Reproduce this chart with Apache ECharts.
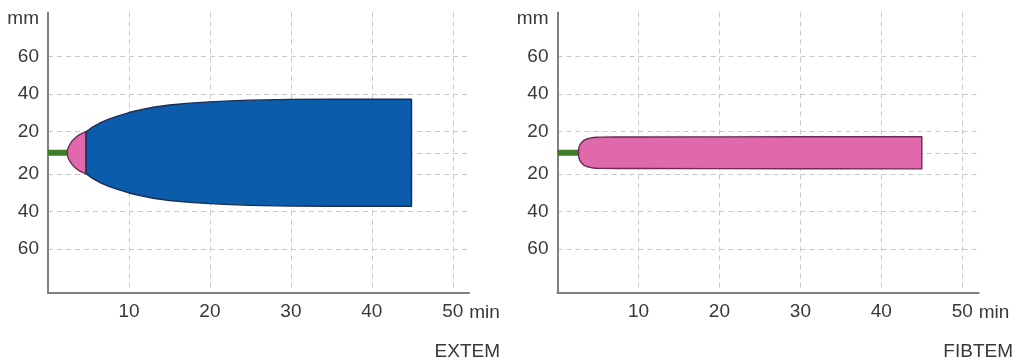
<!DOCTYPE html>
<html>
<head>
<meta charset="utf-8">
<script src="https://cdn.jsdelivr.net/npm/echarts@6/dist/echarts.min.js"></script>
<style>
html,body{margin:0;padding:0;background:#fff;}
#c{width:1022px;height:364px;}
</style>
</head>
<body>
<div id="c"></div>
<script>
// ---- data ----
const timeTicks = [10, 20, 30, 40, 50];          // min
const ampTicks = [60, 40, 20, 0, -20, -40, -60]; // mm (0 = baseline, unlabelled)
const panelTitles = ['EXTEM', 'FIBTEM'];

// EXTEM
const extemCT = 2.4;
const extemPinkTime = [2.4, 2.5, 2.7, 3.0, 3.4, 3.8, 4.2, 4.7];
const extemPinkAmp  = [2.5, 5.0, 8.0, 11.5, 14.5, 16.8, 18.5, 20.0];
const extemBlueTime = [4.7, 5.5, 6.5, 7.5, 8.5, 10, 11.5, 13, 15, 17.5, 20, 22.5, 25, 30, 35, 40, 44.9];
const extemBlueAmp  = [20.0, 22.5, 24.8, 26.7, 28.2, 30.2, 31.7, 33.0, 34.2, 35.2, 35.9, 36.4, 36.8, 37.2, 37.3, 37.3, 37.3];

// FIBTEM
const fibCT = 2.6;
const fibPinkTime = [2.6, 2.65, 2.8, 3.0, 3.3, 3.7, 4.2, 4.8, 5.5, 7, 10, 20, 30, 45];
const fibPinkAmp  = [2.5, 5.0, 8.0, 10.0, 12.0, 13.3, 14.2, 14.7, 14.9, 15.0, 15.0, 15.1, 15.2, 15.3];

// ---- helpers ----
// the drawing's amplitude axis: inner band (0..20 mm) is compressed relative to the outer band
function disp(mm) {
  const a = Math.abs(mm), s = mm < 0 ? -1 : 1;
  return s * (a <= 20 ? a * 1.05 : 21 + (a - 20) * 1.875);
}
function undisp(d) {
  const a = Math.abs(d);
  return a <= 21 ? a / 1.05 : 20 + (a - 21) / 1.875;
}
const zip = (t, v) => t.map((x, i) => [x, v[i]]);

const FONT = "'Liberation Sans', Arial, sans-serif";
const TXT = '#383838';
const FS = 19;
const GRIDC = '#c8c8c8';
const BLUE = '#0b5cab', BLUE_EDGE = '#1b2c55';
const PINK = '#df69ab', PINK_EDGE = '#6a2c55';
const GREEN = '#3e7c28';

function envelopeSeries(gridIdx, pts, fill, stroke, z) {
  return {
    type: 'custom',
    xAxisIndex: gridIdx, yAxisIndex: gridIdx,
    coordinateSystem: 'cartesian2d',
    data: pts,
    z: z,
    silent: true,
    renderItem: function (params, api) {
      if (params.dataIndex !== 0) return;
      const upper = pts.map(p => api.coord([p[0], disp(p[1])]));
      const lower = pts.slice().reverse().map(p => api.coord([p[0], disp(-p[1])]));
      return {
        type: 'polygon',
        shape: { points: upper.concat(lower) },
        style: { fill: fill, stroke: stroke, lineWidth: 1.4, lineJoin: 'round' }
      };
    }
  };
}

const grids = [
  { left: 48, top: 12.5, width: 421, height: 280.5 },
  { left: 557.5, top: 12.5, width: 421, height: 280.5 }
];

function xAxis(i) {
  return {
    gridIndex: i, type: 'value', min: 0, max: 52,
    name: 'min', nameLocation: 'end', nameGap: 0,
    nameTextStyle: { color: TXT, fontSize: FS, fontFamily: FONT, verticalAlign: 'top', align: 'left', padding: [10, 0, 0, 0] },
    axisLine: { show: true, onZero: false, lineStyle: { color: '#808080', width: 2 } },
    axisTick: { show: false, customValues: [0].concat(timeTicks) },
    axisLabel: { customValues: timeTicks, margin: 9, color: TXT, fontSize: FS, fontFamily: FONT },
    splitLine: { show: true, lineStyle: { color: GRIDC, type: [5, 4], width: 1 } }
  };
}
function yAxis(i) {
  const vals = ampTicks.map(disp);
  return {
    gridIndex: i, type: 'value', min: -140, max: 140,
    name: 'mm', nameLocation: 'end', nameGap: 3,
    nameTextStyle: { color: TXT, fontSize: FS, fontFamily: FONT, align: 'right', verticalAlign: 'top', padding: [0, 9, 0, 0] },
    axisLine: { show: true, onZero: false, lineStyle: { color: '#808080', width: 2 } },
    axisTick: { show: false, customValues: vals },
    axisLabel: {
      customValues: vals.filter(v => v !== 0), margin: 9, color: TXT, fontSize: FS, fontFamily: FONT,
      formatter: v => String(Math.round(undisp(v)))
    },
    splitLine: { show: true, lineStyle: { color: GRIDC, type: [5, 4], width: 1 } }
  };
}

const option = {
  animation: false,
  backgroundColor: '#ffffff',
  title: [
    { text: panelTitles[0], right: 522, top: 342, textStyle: { color: TXT, fontSize: FS, fontWeight: 'normal', fontFamily: FONT }, padding: 0 },
    { text: panelTitles[1], right: 9, top: 342, textStyle: { color: TXT, fontSize: FS, fontWeight: 'normal', fontFamily: FONT }, padding: 0 }
  ],
  grid: grids,
  xAxis: [xAxis(0), xAxis(1)],
  yAxis: [yAxis(0), yAxis(1)],
  series: [
    { type: 'line', xAxisIndex: 0, yAxisIndex: 0, data: [[0, 0], [extemCT, 0]], symbol: 'none', z: 3,
      lineStyle: { color: GREEN, width: 6 }, silent: true },
    envelopeSeries(0, zip(extemPinkTime, extemPinkAmp), PINK, PINK_EDGE, 4),
    envelopeSeries(0, zip(extemBlueTime, extemBlueAmp), BLUE, BLUE_EDGE, 5),
    { type: 'line', xAxisIndex: 1, yAxisIndex: 1, data: [[0, 0], [fibCT, 0]], symbol: 'none', z: 3,
      lineStyle: { color: GREEN, width: 6 }, silent: true },
    envelopeSeries(1, zip(fibPinkTime, fibPinkAmp), PINK, PINK_EDGE, 4)
  ]
};

const chart = echarts.init(document.getElementById('c'), null, { renderer: 'canvas' });
chart.setOption(option);
</script>
</body>
</html>
